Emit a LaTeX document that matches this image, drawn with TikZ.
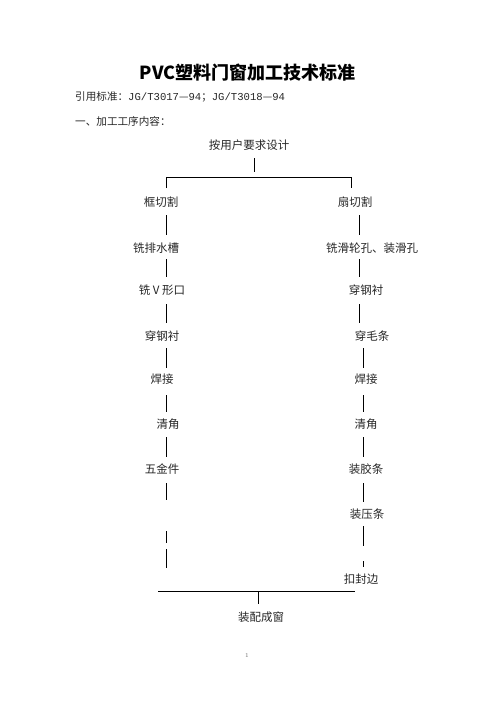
\documentclass[tikz,border=0pt]{standalone}
\usepackage{fontspec}
\newfontfamily\cjk{Noto Sans CJK SC}
\newfontfamily\halfw{Liberation Mono}
\usetikzlibrary{calc}

\begin{document}
\begin{tikzpicture}[x=1pt, y=-1pt,
		stepnode/.style={inner sep=0pt, text=black!85, font=\cjk\fontsize{11.5}{13}\selectfont},
		headnode/.style={inner sep=0pt, anchor=west, text=black!85, font=\cjk\fontsize{10.6}{12}\selectfont},
		link/.style={line width=0.8pt}]
			\useasboundingbox (0,0) rectangle (496,702);
			% heading
			\node [inner sep=0pt, font=\cjk\bfseries\fontsize{18}{20}\selectfont] (title) at (247.5,73) {PVC塑料门窗加工技术标准};
			\node [headnode] (refstd) at (75,97) {引用标准：{\halfw JG/T3017}—{\halfw 94}；{\halfw JG/T3018}—{\halfw 94}};
			\node [headnode] (section) at (75,121) {一、加工工序内容：};
			% steps
			\node [stepnode] (design) at (249,145) {按用户要求设计};
			\node [stepnode] (fcut) at (161,202) {框切割};
			\node [stepnode] (scut) at (355,202) {扇切割};
			\node [stepnode] (fdrain) at (156,248) {铣排水槽};
			\node [stepnode] (fvcut) at (162,290) {铣 V 形口};
			\node [stepnode] (fsteel) at (162,336) {穿钢衬};
			\node [stepnode] (fweld) at (162,379) {焊接};
			\node [stepnode] (fclean) at (168,424) {清角};
			\node [stepnode] (fhard) at (162,469) {五金件};
			\node [stepnode] (swheel) at (372,248) {铣滑轮孔、装滑孔};
			\node [stepnode] (ssteel) at (366,290) {穿钢衬};
			\node [stepnode] (sbrush) at (372,336) {穿毛条};
			\node [stepnode] (sweld) at (366,379) {焊接};
			\node [stepnode] (sclean) at (366,424) {清角};
			\node [stepnode] (sgasket) at (366,469) {装胶条};
			\node [stepnode] (sbead) at (367,514) {装压条};
			\node [stepnode] (sseal) at (361,579) {扣封边};
			\node [stepnode] (window) at (261,617) {装配成窗};
			\node [inner sep=0pt, text=black!60, font=\fontsize{6}{7}\selectfont] (page) at (247,655) {1};
			% line positions
			\coordinate (tm) at (254,177);
			\coordinate (tl) at (166,177);
			\coordinate (tr) at (351,177);
			\coordinate (lx) at (166.5,0);
			\coordinate (rx) at (359,0);
			\coordinate (rxx) at (363,0);
			\coordinate (bl) at (158,591);
			\coordinate (br) at (355,591);
			\coordinate (bm) at (258,591);
			% split
			\draw [link] ([yshift=-13pt]design.center -| tm) -- ([yshift=5pt]tm);
			\draw [link] ([yshift=14pt]fcut.center -| tl) -- (tl) -- (tr) -- ([yshift=14pt]scut.center -| tr);
			% frame column
			\draw [link] ([yshift=-13pt]fcut.center -| lx) -- ([yshift=13pt]fdrain.center -| lx);
			\draw [link] ([yshift=-11pt]fdrain.center -| lx) -- ([yshift=13pt]fvcut.center -| lx);
			\draw [link] ([yshift=-14pt]fvcut.center -| lx) -- ([yshift=13pt]fsteel.center -| lx);
			\draw [link] ([yshift=-12pt]fsteel.center -| lx) -- ([yshift=11pt]fweld.center -| lx);
			\draw [link] ([yshift=-16pt]fweld.center -| lx) -- ([yshift=12pt]fclean.center -| lx);
			\draw [link] ([yshift=-13pt]fclean.center -| lx) -- ([yshift=12pt]fhard.center -| lx);
			\draw [link] ([yshift=-14pt]fhard.center -| lx) -- ([yshift=-31pt]fhard.center -| lx);
			\draw [link] ([yshift=-62pt]fhard.center -| lx) -- ([yshift=-74pt]fhard.center -| lx);
			\draw [link] ([yshift=-80pt]fhard.center -| lx) -- ([yshift=-99pt]fhard.center -| lx);
			% sash column
			\draw [link] ([yshift=-13pt]scut.center -| rx) -- ([yshift=13pt]swheel.center -| rx);
			\draw [link] ([yshift=-11pt]swheel.center -| rx) -- ([yshift=13pt]ssteel.center -| rx);
			\draw [link] ([yshift=-14pt]ssteel.center -| rx) -- ([yshift=13pt]sbrush.center -| rx);
			\draw [link] ([yshift=-12pt]sbrush.center -| rxx) -- ([yshift=11pt]sweld.center -| rxx);
			\draw [link] ([yshift=-16pt]sweld.center -| rxx) -- ([yshift=12pt]sclean.center -| rxx);
			\draw [link] ([yshift=-13pt]sclean.center -| rxx) -- ([yshift=12pt]sgasket.center -| rxx);
			\draw [link] ([yshift=-14pt]sgasket.center -| rxx) -- ([yshift=12pt]sbead.center -| rxx);
			\draw [link] ([yshift=-12pt]sbead.center -| rxx) -- ([yshift=33pt]sseal.center -| rxx);
			\draw [link] ([yshift=18pt]sseal.center -| rxx) -- ([yshift=12pt]sseal.center -| rxx);
			% join
			\draw [link] (bl) -- (br);
			\draw [link] (bm) -- ([yshift=13pt]window.center -| bm);
		\end{tikzpicture}
\end{document}
